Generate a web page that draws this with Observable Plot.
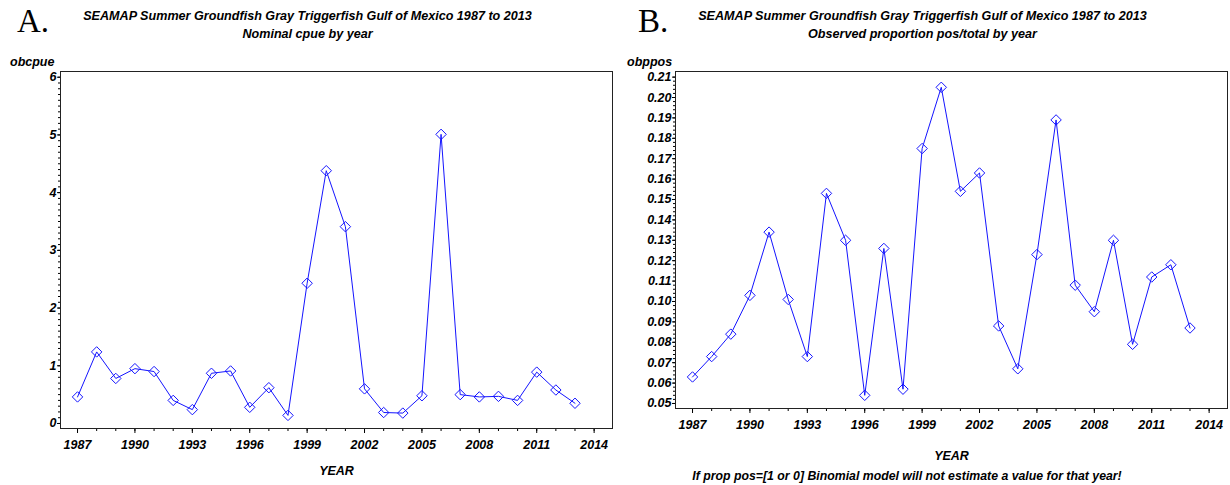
<!DOCTYPE html>
<html>
<head>
<meta charset="utf-8">
<script src="https://cdn.jsdelivr.net/npm/d3@7"></script>
<script src="https://cdn.jsdelivr.net/npm/@observablehq/plot@0.6"></script>
<style>
  body { margin: 0; background: #fff; }
  #wrap { position: relative; width: 1230px; height: 485px; overflow: hidden; }
  .panel { position: absolute; top: 0; width: 615px; height: 485px; }
  #labels { position: absolute; left: 0; top: 0; pointer-events: none; }
</style>
</head>
<body>
<div id="wrap">
  <div class="panel" id="panelA" style="left:0"></div>
  <div class="panel" id="panelB" style="left:615px"></div>
</div>
<script>
// Survey years
const years = [1987, 1988, 1989, 1990, 1991, 1992, 1993, 1994, 1995, 1996, 1997, 1998, 1999,
               2000, 2001, 2002, 2003, 2004, 2005, 2006, 2007, 2008, 2009, 2010, 2011, 2012, 2013];

// A: nominal CPUE by year
const obcpue = [0.46, 1.24, 0.78, 0.95, 0.90, 0.40, 0.24, 0.87, 0.91, 0.28, 0.62, 0.14, 2.43,
                4.38, 3.41, 0.60, 0.19, 0.18, 0.48, 5.01, 0.50, 0.46, 0.47, 0.40, 0.89, 0.58, 0.35];

// B: observed proportion of positive stations by year
const obppos = [0.063, 0.073, 0.084, 0.103, 0.134, 0.101, 0.073, 0.153, 0.130, 0.054, 0.126, 0.057, 0.175,
                0.205, 0.154, 0.163, 0.088, 0.067, 0.123, 0.189, 0.108, 0.095, 0.130, 0.079, 0.112, 0.118, 0.087];

// Axis tick labels
const yearTicks = [1987, 1990, 1993, 1996, 1999, 2002, 2005, 2008, 2011, 2014];
const cpueTicks = [0, 1, 2, 3, 4, 5, 6];
const posTicks = [0.05, 0.06, 0.07, 0.08, 0.09, 0.10, 0.11, 0.12, 0.13, 0.14, 0.15, 0.16, 0.17, 0.18, 0.19, 0.20, 0.21];

const allYears = d3.range(1987, 2015);
const BLUE = "#1414ff";
const FONT = "Liberation Sans, Arial, sans-serif";

function panel({values, yDomain, yTicks, yMinor, yFormat, marginBottom, labelOffset}) {
  const data = years.map((year, i) => ({year, value: values[i]}));
  return Plot.plot({
    width: 615,
    height: 485,
    marginLeft: 60,
    marginRight: 3,
    marginTop: 71,
    marginBottom,
    x: {domain: [1986.11, 2014.96]},
    y: {domain: yDomain},
    style: {fontFamily: FONT, fontSize: "12.5px", fontStyle: "italic", fontWeight: "bold", color: "#000", background: "transparent", overflow: "visible"},
    marks: [
      Plot.axisY({ticks: yMinor, tickSize: 2, text: null, label: null}),
      Plot.axisY({ticks: yTicks, tickSize: 3, tickPadding: 1, tickFormat: yFormat, label: null}),
      Plot.axisX({ticks: allYears, tickSize: 3, text: null, label: null}),
      Plot.axisX({ticks: yearTicks, tickSize: 5, tickPadding: 7, tickFormat: d => String(d),
                  label: "YEAR", labelAnchor: "center", labelArrow: "none", labelOffset}),
      Plot.frame({stroke: "#222"}),
      Plot.line(data, {x: "year", y: "value", stroke: BLUE, strokeWidth: 1}),
      Plot.dot(data, {x: "year", y: "value", symbol: "diamond2", r: 4.7, stroke: BLUE, strokeWidth: 1, fill: "none"})
    ]
  });
}

document.getElementById("panelA").append(panel({
  values: obcpue,
  yDomain: [-0.087, 6.099],
  yTicks: cpueTicks,
  yMinor: d3.range(0, 6.001, 0.1),
  yFormat: d => String(d),
  marginBottom: 57,
  labelOffset: 46
}));

document.getElementById("panelB").append(panel({
  values: obppos,
  yDomain: [0.04754, 0.21275],
  yTicks: posTicks,
  yMinor: d3.range(0.05, 0.2101, 0.002),
  yFormat: d => d.toFixed(2),
  marginBottom: 77,
  labelOffset: 51
}));

// Panel letters, titles, y-axis names and footnote
const svg = d3.select("#wrap").append("svg")
  .attr("id", "labels").attr("width", 1230).attr("height", 485);

const texts = [
  {x: 17, y: 32, s: "A.", serif: true},
  {x: 638, y: 32, s: "B.", serif: true},
  {x: 307.5, y: 20, s: "SEAMAP Summer Groundfish Gray Triggerfish Gulf of Mexico 1987 to 2013", mid: true, size: 12.6},
  {x: 307.5, y: 37.5, s: "Nominal cpue by year", mid: true, size: 12.6},
  {x: 922.5, y: 20, s: "SEAMAP Summer Groundfish Gray Triggerfish Gulf of Mexico 1987 to 2013", mid: true, size: 12.6},
  {x: 922.5, y: 37.5, s: "Observed proportion pos/total by year", mid: true, size: 12.6},
  {x: 10, y: 66, s: "obcpue", size: 12.5},
  {x: 627, y: 66, s: "obppos", size: 12.5},
  {x: 907, y: 480, s: "If prop pos=[1 or 0] Binomial model will not estimate a value for that year!", mid: true, size: 12.3}
];

svg.selectAll("text").data(texts).join("text")
  .attr("x", d => d.x)
  .attr("y", d => d.y)
  .attr("text-anchor", d => d.mid ? "middle" : "start")
  .attr("font-family", d => d.serif ? "Liberation Serif, Times New Roman, serif" : FONT)
  .attr("font-size", d => d.serif ? 33 : d.size)
  .attr("font-style", d => d.serif ? "normal" : "italic")
  .attr("font-weight", d => d.serif ? "normal" : "bold")
  .attr("fill", "#000")
  .text(d => d.s);
</script>
</body>
</html>
